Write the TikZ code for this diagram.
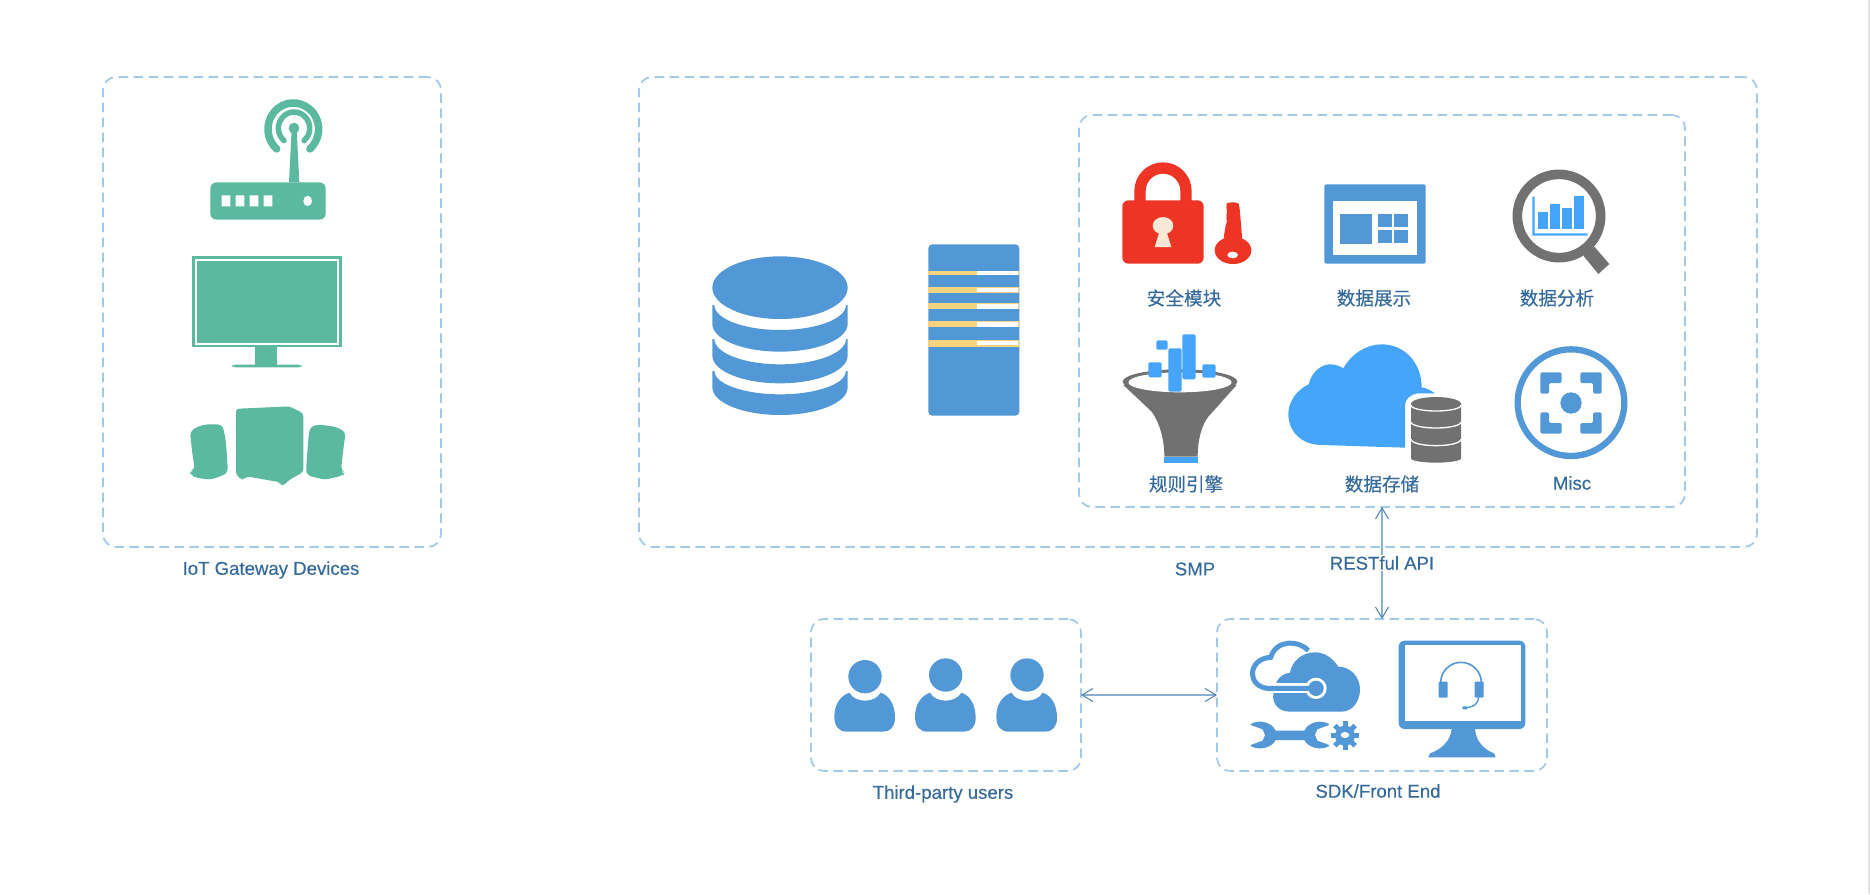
\documentclass[tikz,border=0pt]{standalone}
\usepackage{fontspec}
\setmainfont{Liberation Sans}[RawFeature={embolden=0.3}]
\newfontfamily\cjk{Noto Sans CJK SC}[RawFeature={embolden=0.3}]
\usetikzlibrary{arrows.meta, positioning}
\definecolor{dashblue}{HTML}{A0C9EA}
\definecolor{labelblue}{HTML}{356A9C}
\definecolor{iconblue}{HTML}{5298D6}
\definecolor{skyblue}{HTML}{45A5FA}
\definecolor{iconteal}{HTML}{5BB99F}
\definecolor{iconred}{HTML}{EE3424}
\definecolor{icongray}{HTML}{717171}
\definecolor{slotyellow}{HTML}{F7D27F}
\definecolor{keycream}{HTML}{F9E8D5}
\definecolor{linkblue}{HTML}{8AAFCF}
\definecolor{tipblue}{HTML}{4F83B3}
\definecolor{edgegray}{HTML}{E4E4E4}
\tikzset{
  groupbox/.style={draw=dashblue, line width=1.7pt, dash pattern=on 9.5pt off 5.5pt,
    rounded corners=13pt, inner sep=0pt, outer sep=0pt},
  grouplabel/.style={text=labelblue, font=\fontsize{18.6}{22}\selectfont, inner sep=1pt},
  cjklabel/.style={text=labelblue, font=\cjk\fontsize{18.6}{22}\selectfont, inner sep=1pt},
  biarrow/.style={{Straight Barb[length=11pt,width=13pt,color=tipblue,line width=1pt]}-{Straight Barb[length=11pt,width=13pt,color=tipblue,line width=1pt]},
    draw=linkblue, line width=1.8pt},
  zoomed/.style={scale=1/3}
}
\begin{document}
\begin{tikzpicture}[x=1pt, y=1pt, yscale=-1]
\useasboundingbox (0,0) rectangle (1870,894);
\fill[edgegray] (1868,0) rectangle (1870,894);
% group boxes
\node[groupbox, minimum width=338pt, minimum height=470pt] (gateway) at (272,312) {};
\node[groupbox, minimum width=1118pt, minimum height=470pt] (smp) at (1198,312) {};
\node[groupbox, minimum width=606pt, minimum height=392pt] (modules) at (1382,311) {};
\node[groupbox, minimum width=270pt, minimum height=152pt] (users) at (946,695) {};
\node[groupbox, minimum width=330pt, minimum height=152pt] (sdk) at (1382,695) {};
% router, monitor, speakers
\begin{scope}[shift={(80,60)}, xscale=1/3, yscale=1.034/3]
  \fill[iconteal, rounded corners=6pt] (391,355) rectangle (737,463);
  \fill[white] \foreach \hx in {425,467,509,551} {(\hx,393) rectangle ++(26,32)};
  \fill[white] (683,409) ellipse (13 and 15);
  \fill[iconteal] (627,355) -- (635,200) -- (650,200) -- (658,355) -- cycle;
  \fill[iconteal] (642,198) circle (16);
  \draw[iconteal, line width=5.5pt, line cap=round] (612,234) arc (130:410:47);
  \draw[iconteal, line width=7.5pt, line cap=round] (590,258) arc (131:409:76);
  \fill[iconteal] (337,570) rectangle (785,833);
  \fill[white] (344,577) rectangle (778,827);
  \fill[iconteal] (350,583) rectangle (772,821);
  \fill[iconteal] (524,833) rectangle (592,884);
  \fill[iconteal, rounded corners=3pt] (457,884) rectangle (665,892);
  \fill[iconteal, rounded corners=3pt] (468,1012) -- (628,1005) -- (670,1025) -- (670,1195)
    -- (622,1222) -- (612,1235) -- (602,1232) -- (600,1225) -- (500,1208) -- (490,1218)
    -- (480,1215) -- (478,1207) -- (468,1205) -- cycle;
  \fill[iconteal, rounded corners=4pt] (330,1078) -- (350,1065) -- (375,1057) -- (425,1057)
    -- (432,1075) -- (438,1110) -- (444,1195) -- (430,1205) -- (390,1218) -- (350,1212)
    -- (332,1205) -- (330,1192) -- (345,1188) -- (338,1150) -- cycle;
  \fill[iconteal, rounded corners=4pt] (690,1065) -- (715,1057) -- (770,1065) -- (797,1080)
    -- (790,1130) -- (783,1190) -- (793,1197) -- (790,1205) -- (735,1218) -- (700,1210)
    -- (682,1205) -- (678,1190) -- (685,1100) -- cycle;
\end{scope}
% database, server
\begin{scope}[shift={(630,70)}, zoomed]
  \fill[iconblue] (450,653) ellipse (203 and 94);
  \foreach \top/\mid/\ry in {705/762/75, 807/857/76, 903/952/70} {
    \fill[iconblue] (247,\top) -- (247,\mid) arc (180:0:203 and 83) -- (653,\top) -- (648,\top)
      arc (0:180:197.5 and \ry) -- cycle;
  }
  \fill[iconblue, rounded corners=4pt] (895,523) rectangle (1168,1037);
  \foreach \ya/\yb/\wa/\wb in {602/616/603/615, 650/670/655/665, 698/718/703/717, 752/772/757/771, 811/832/813/826} {
    \fill[slotyellow] (895,\ya) rectangle (1168,\yb);
    \fill[white] (1040,\wa) rectangle (1163,\wb);
  }
\end{scope}
% lock and key, dashboard, funnel, cloud
\begin{scope}[shift={(1080,110)}, zoomed]
  \fill[iconred, rounded corners=6pt] (127,271) rectangle (371,461);
  \draw[iconred, line width=11.3pt] (180,275) -- (180,243) arc (180:360:69) -- (318,275);
  \fill[keycream] (249,347) ellipse (31 and 26);
  \fill[keycream] (240,360) -- (258,360) -- (274,411) -- (224,411) -- cycle;
  \fill[iconred] (459,421) ellipse (55 and 41);
  \fill[iconred, rounded corners=3pt] (438,283) -- (445,277) -- (472,277) -- (478,285) -- (487,390)
    -- (430,390) -- (437,345) -- (443,330) -- (437,320) -- (443,310) -- (440,300) -- cycle;
  \fill[white] (458,435) ellipse (16 and 10);
  \fill[iconblue, rounded corners=2pt] (733,223) rectangle (1037,461);
  \fill[white] (760,274) rectangle (1010,434);
  \fill[iconblue] (781,313) rectangle (875,401);
  \foreach \cx in {895,943} \foreach \cy in {313,361} {
    \fill[iconblue] (\cx,\cy) rectangle ++(40,39);
  }
  \fill[icongray] (300,815) ellipse (172 and 37);
  \fill[icongray] (130,825) -- (215,905) .. controls (240,940) and (253,990) .. (253,1040)
    -- (353,1040) .. controls (353,990) and (365,945) .. (385,920) -- (470,825) -- cycle;
  \fill[white] (300,817) ellipse (155 and 30);
  \fill[skyblue] (253,1040) rectangle (353,1060);
  \fill[skyblue, rounded corners=1.5pt] (205,757) rectangle (245,802);
  \fill[skyblue, rounded corners=1.5pt] (229,691) rectangle (263,719);
  \fill[skyblue, rounded corners=1.5pt] (265,715) rectangle (305,845);
  \fill[skyblue, rounded corners=1.5pt] (307,673) rectangle (347,808);
  \fill[skyblue, rounded corners=1.5pt] (367,763) rectangle (407,803);
  \fill[skyblue] (975,1013) -- (725,1005) .. controls (665,1005) and (625,965) .. (625,912)
    .. controls (625,875) and (650,840) .. (686,823) .. controls (695,785) and (725,763) .. (750,763)
    .. controls (765,763) and (780,768) .. (790,775) .. controls (815,730) and (860,703) .. (905,703)
    .. controls (975,703) and (1025,760) .. (1025,832) .. controls (1040,835) and (1055,842) .. (1065,850)
    -- (1015,850) .. controls (990,852) and (975,870) .. (975,885) -- cycle;
\end{scope}
% magnifier, small database, misc
\begin{scope}[shift={(1400,110)}, zoomed]
  \draw[icongray, line width=9.6pt] (477,318) circle (125);
  \fill[icongray] (550,437) -- (583,410) -- (628,462) -- (595,492) -- cycle;
  \fill[skyblue] (397,260) -- (404,260) -- (404,370) -- (563,370) -- (563,377) -- (397,377) -- cycle;
  \fill[skyblue] (415,307) rectangle (443,358);
  \fill[skyblue] (451,283) rectangle (479,358);
  \fill[skyblue] (487,295) rectangle (515,358);
  \fill[skyblue] (523,259) rectangle (551,358);
  \fill[icongray] (33,882) arc (180:360:75 and 21) -- (183,1045) arc (0:180:75 and 13) -- cycle;
  \foreach \wy/\wr in {886/17, 936/18, 988/19} {
    \draw[white, line width=1.3pt] (33,\wy) arc (180:0:75 and \wr);
  }
  \draw[iconblue, line width=6.3pt] (513,878) circle (160);
  \fill[iconblue] (513,879) circle (32);
  \foreach \sx/\sy in {1/1, -1/1, 1/-1, -1/-1} {
    \begin{scope}[shift={(513,879)}, xscale=\sx, yscale=\sy]
      \fill[iconblue, rounded corners=2pt] (92,-28) -- (92,-92) -- (28,-92) -- (28,-60) -- (66,-60) -- (66,-28) -- cycle;
    \end{scope}
  }
\end{scope}
% users
\begin{scope}[shift={(800,610)}, zoomed]
  \foreach \ux/\uy in {0/200, 242/195, 486/195} {
    \fill[iconblue] (195+\ux,\uy) circle (50);
    \fill[iconblue] (148+\ux,248) .. controls (165+\ux,280) and (225+\ux,280) .. (242+\ux,248)
      .. controls (270+\ux,258) and (285+\ux,285) .. (285+\ux,325)
      .. controls (285+\ux,350) and (270+\ux,365) .. (250+\ux,365) -- (140+\ux,365)
      .. controls (118+\ux,365) and (103+\ux,350) .. (103+\ux,320)
      .. controls (103+\ux,285) and (120+\ux,258) .. (148+\ux,248) -- cycle;
  }
\end{scope}
% sdk cloud, wrench, gear, support monitor
\begin{scope}[shift={(1210,610)}, zoomed]
  \fill[iconblue] (240,305) -- (395,305) .. controls (430,305) and (450,270) .. (450,238)
    .. controls (450,200) and (420,170) .. (385,170) .. controls (365,140) and (340,127) .. (315,127)
    .. controls (275,127) and (245,155) .. (240,188) .. controls (222,190) and (208,200) .. (200,215)
    -- (190,250) .. controls (185,285) and (210,305) .. (240,305) -- cycle;
  \draw[white, line width=10pt] (150,235) -- (300,235);
  \fill[white] (318,235) circle (32);
  \draw[iconblue, line width=5pt] (295,122) .. controls (270,92) and (200,85) .. (182,142)
    .. controls (135,145) and (125,180) .. (128,195) .. controls (130,225) and (160,235) .. (175,235)
    -- (300,235);
  \fill[iconblue] (318,235) circle (23);
  \fill[iconblue] (122,342) .. controls (145,328) and (185,335) .. (197,362) -- (283,362)
    .. controls (295,335) and (335,328) .. (357,342) -- (357,345) -- (322,358) -- (315,375)
    -- (322,392) -- (357,405) -- (357,408) .. controls (335,422) and (295,415) .. (283,390)
    -- (197,390) .. controls (185,415) and (145,422) .. (122,408) -- (122,405) -- (158,392)
    -- (165,375) -- (158,358) -- (122,345) -- cycle;
  \fill[iconblue] (405,377) circle (30);
  \foreach \ga in {0,45,...,315} {
    \draw[iconblue, line width=5pt] (405,377) -- ++(\ga:43);
  }
  \fill[white] (405,375) ellipse (13 and 9);
  \fill[iconblue, rounded corners=6pt] (566,92) rectangle (946,357);
  \fill[white] (585,105) rectangle (932,332);
  \fill[iconblue] (725,357) .. controls (722,395) and (690,420) .. (660,430) -- (655,442) -- (857,442)
    -- (852,430) .. controls (825,420) and (797,395) .. (795,357) -- cycle;
  \draw[iconblue, line width=1.6pt] (692,218) arc (180:360:61);
  \fill[iconblue, rounded corners=1pt] (686,215) rectangle (713,263);
  \fill[iconblue, rounded corners=1pt] (794,215) rectangle (821,263);
  \draw[iconblue, line width=1.4pt] (805,263) .. controls (803,285) and (790,290) .. (770,293);
  \fill[iconblue, rounded corners=1pt] (757,289) rectangle (773,298);
\end{scope}
% connectors
\draw[biarrow] (modules.south) -- (sdk.north) node[pos=0.5, grouplabel, fill=white] (rest) {RESTful API};
\draw[biarrow] (users.east) -- (sdk.west);
% labels
\node[grouplabel] (gatewaylabel) at (271,570) {IoT Gateway Devices};
\node[grouplabel] (smplabel) at (1195,569) {SMP};
\node[grouplabel] (userslabel) at (943,794) {Third-party users};
\node[grouplabel] (sdklabel) at (1378,791) {SDK/Front End};
\node[cjklabel] (securitylabel) at (1184,298) {安全模块};
\node[cjklabel] (displaylabel) at (1374,298) {数据展示};
\node[cjklabel] (analysislabel) at (1557,298) {数据分析};
\node[cjklabel] (ruleslabel) at (1186,484) {规则引擎};
\node[cjklabel] (storagelabel) at (1382,484) {数据存储};
\node[grouplabel] (misclabel) at (1572,483) {Misc};
\end{tikzpicture}
\end{document}
